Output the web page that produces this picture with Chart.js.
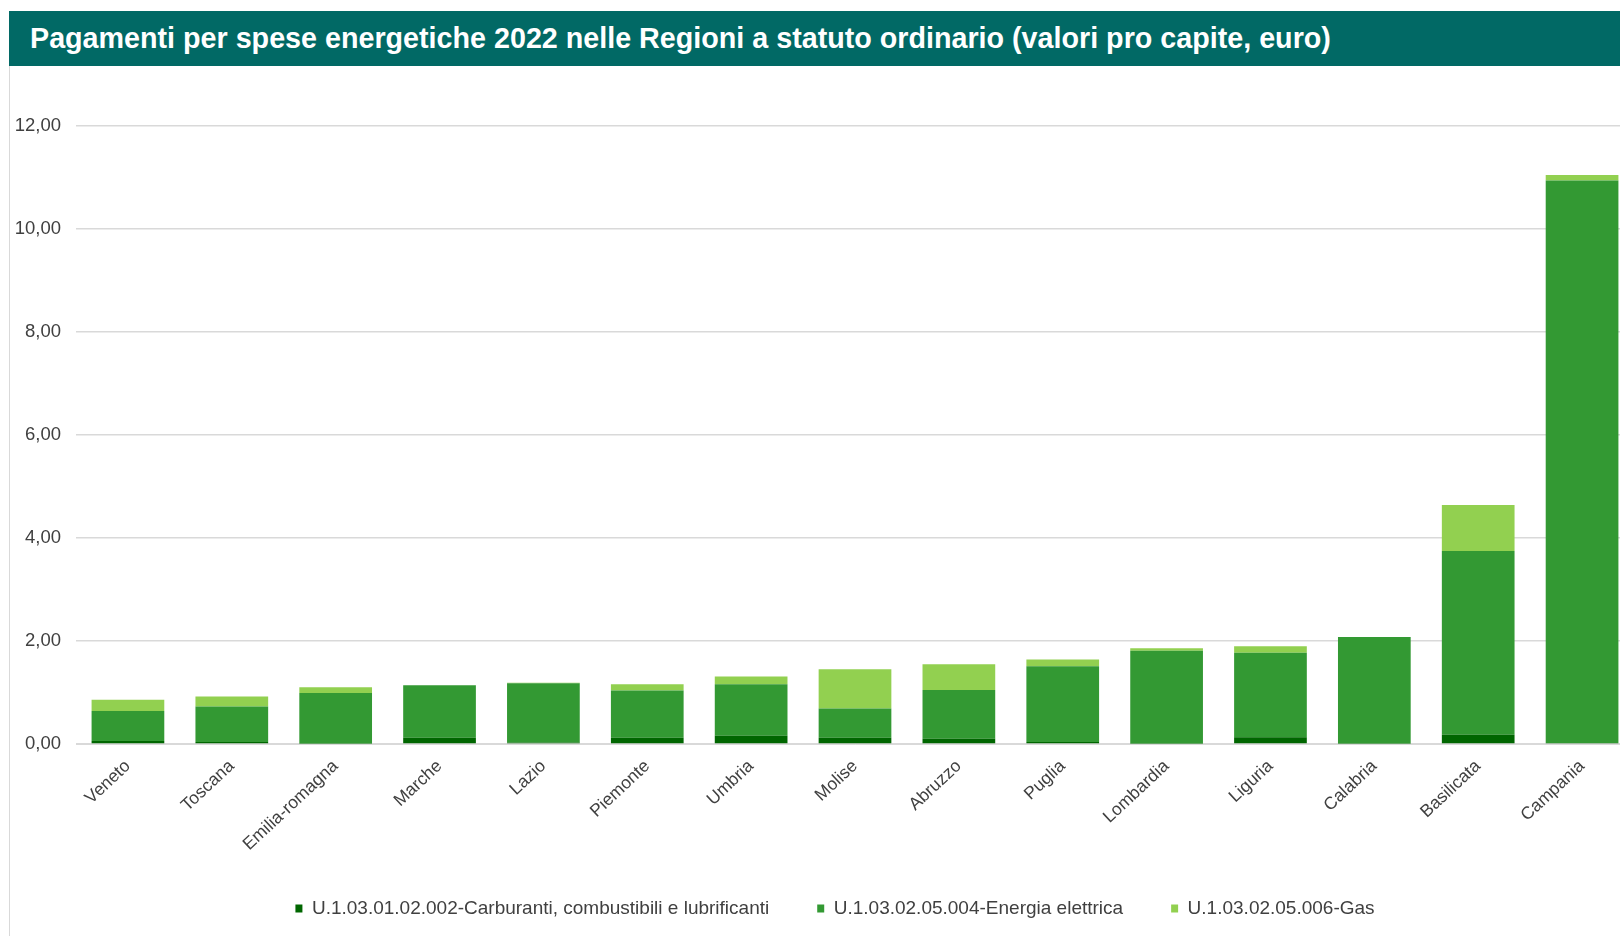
<!DOCTYPE html>
<html>
<head>
<meta charset="utf-8">
<script src="https://cdn.jsdelivr.net/npm/chart.js@4"></script>
<style>
  html, body { margin: 0; padding: 0; background: #fff; overflow: hidden; width: 1620px; height: 936px; }
  #title {
    position: absolute; left: 9px; top: 11px; width: 1640px; height: 55px;
    background: #016965; color: #fff;
    font-family: "Liberation Sans", Arial, sans-serif; font-weight: bold; font-size: 28.7px;
    line-height: 55px; padding-left: 21px; box-sizing: border-box; white-space: nowrap;
  }
  #wrap {
    position: absolute; left: 9px; top: 66px; width: 1625px; height: 870px;
    border-left: 1px solid #d9d9d9; box-sizing: border-box;
  }
</style>
</head>
<body>
<div id="title">Pagamenti per spese energetiche 2022 nelle Regioni a statuto ordinario (valori pro capite, euro)</div>
<div id="wrap"><canvas id="c"></canvas></div>
<script>
const categories = ["Veneto", "Toscana", "Emilia-romagna", "Marche", "Lazio", "Piemonte", "Umbria", "Molise", "Abruzzo", "Puglia", "Lombardia", "Liguria", "Calabria", "Basilicata", "Campania"];
const carburanti = [0.06, 0.04, 0.01, 0.12, 0.03, 0.12, 0.16, 0.12, 0.10, 0.04, 0.01, 0.13, 0.01, 0.18, 0.02];
const energia    = [0.58, 0.69, 0.98, 1.02, 1.15, 0.92, 1.00, 0.57, 0.95, 1.47, 1.80, 1.64, 2.07, 3.57, 10.92];
const gas        = [0.22, 0.19, 0.11, 0.00, 0.01, 0.12, 0.15, 0.76, 0.50, 0.13, 0.05, 0.13, 0.00, 0.89, 0.11];
const seriesNames = ["U.1.03.01.02.002-Carburanti, combustibili e lubrificanti", "U.1.03.02.05.004-Energia elettrica", "U.1.03.02.05.006-Gas"];
const yTicks = [0, 2, 4, 6, 8, 10, 12];

const FONT = '"Liberation Sans", Arial, sans-serif';
const shiftLegend = {
  id: 'shiftLegend',
  afterLayout(chart) {
    const lg = chart.legend;
    if (lg) { lg.left += 13; lg.right += 13; }
  }
};
const ctx = document.getElementById('c');
new Chart(ctx, {
  type: 'bar',
  data: {
    labels: categories,
    datasets: [
      { label: seriesNames[0], data: carburanti, backgroundColor: '#006600' },
      { label: seriesNames[1], data: energia, backgroundColor: '#339933' },
      { label: seriesNames[2], data: gas, backgroundColor: '#92D050' }
    ]
  },
  plugins: [shiftLegend],
  options: {
    responsive: true,
    maintainAspectRatio: false,
    animation: false,
    datasets: { bar: { barPercentage: 0.7, categoryPercentage: 1.0 } },
    layout: { padding: { top: 60, right: 0, bottom: 8, left: 0 } },
    plugins: {
      tooltip: { enabled: false },
      legend: {
        position: 'bottom',
        labels: {
          font: { family: FONT, size: 19 },
          color: '#404040',
          boxWidth: 7, boxHeight: 8,
          padding: 48
        }
      }
    },
    scales: {
      x: {
        stacked: true,
        grid: { display: false },
        border: { display: true, color: '#d9d9d9' },
        ticks: {
          font: { family: FONT, size: 17.5 },
          color: '#404040',
          maxRotation: 43, minRotation: 43,
          padding: 4
        },
        afterFit: (s) => { s.height = 107; }
      },
      y: {
        stacked: true,
        min: 0, max: 12,
        afterBuildTicks: (s) => { s.ticks = yTicks.map(v => ({ value: v })); },
        grid: { color: '#d9d9d9', drawTicks: false, lineWidth: 1.5 },
        border: { display: false },
        ticks: {
          font: { family: FONT, size: 18.5 },
          color: '#404040',
          padding: 15,
          callback: (v) => v.toFixed(2).replace('.', ',')
        },
        afterFit: (s) => { s.width = 66; }
      }
    }
  }
});
</script>
</body>
</html>
